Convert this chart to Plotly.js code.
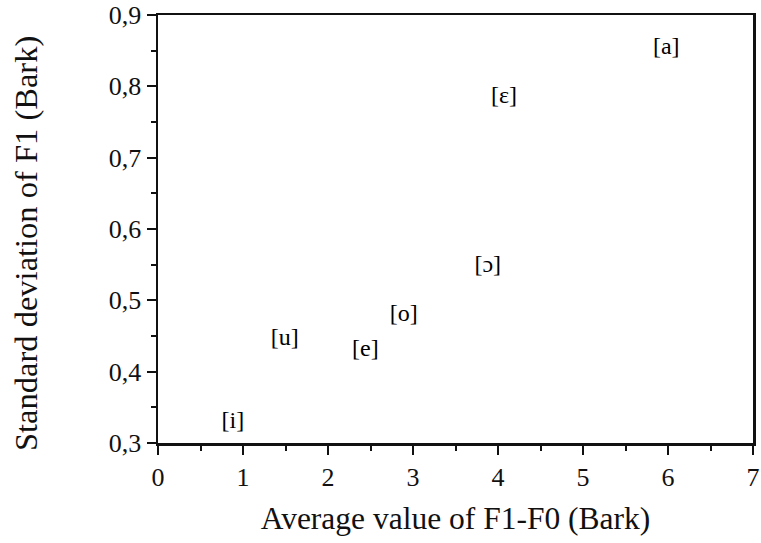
<!DOCTYPE html>
<html><head><meta charset="utf-8">
<script src="https://cdn.plot.ly/plotly-3.0.1.min.js"></script>
<style>html,body{margin:0;padding:0;background:#fff}#chart{width:761px;height:543px}</style>
</head><body><div id="chart"></div>
<script>
const vowels = ["[a]", "[ε]", "[ɔ]", "[o]", "[e]", "[u]", "[i]"];
const meanF1F0 = [5.98, 4.07, 3.88, 2.89, 2.44, 1.49, 0.88];
const sdF1 = [0.854, 0.785, 0.548, 0.479, 0.430, 0.446, 0.329];
const xTickVals = [0, 1, 2, 3, 4, 5, 6, 7];
const xTickText = ["0", "1", "2", "3", "4", "5", "6", "7"];
const yTickVals = [0.3, 0.4, 0.5, 0.6, 0.7, 0.8, 0.9];
const yTickText = ["0,3", "0,4", "0,5", "0,6", "0,7", "0,8", "0,9"];
const xTitle = "Average value of F1-F0 (Bark)";
const yTitle = "Standard deviation of F1 (Bark)";

const font = "Liberation Serif, Times New Roman, serif";
const trace = {
  x: meanF1F0, y: sdF1, text: vowels, mode: "text", type: "scatter",
  textposition: "middle center",
  textfont: {family: font, size: 24, color: "#000"},
  hoverinfo: "none", cliponaxis: false
};
const layout = {
  width: 761, height: 543,
  margin: {l: 158, r: 8, t: 15, b: 100},
  paper_bgcolor: "#fff", plot_bgcolor: "#fff",
  showlegend: false,
  xaxis: {
    range: [0, 7], tickvals: xTickVals, ticktext: xTickText,
    ticks: "outside", ticklen: 9, tickwidth: 2, tickcolor: "#111",
    minor: {dtick: 0.5, tick0: 0, ticks: "outside", ticklen: 5, tickwidth: 2, tickcolor: "#111", showgrid: false},
    showline: true, linewidth: 2.5, linecolor: "#111", mirror: true,
    showgrid: false, zeroline: false,
    tickfont: {family: font, size: 26, color: "#111"},
    title: {text: xTitle, font: {family: font, size: 31.5, color: "#111"}, standoff: 16}
  },
  yaxis: {
    range: [0.3, 0.9], tickvals: yTickVals, ticktext: yTickText,
    ticks: "outside", ticklen: 9, tickwidth: 2, tickcolor: "#111",
    minor: {dtick: 0.05, tick0: 0.3, ticks: "outside", ticklen: 5, tickwidth: 2, tickcolor: "#111", showgrid: false},
    showline: true, linewidth: 2.5, linecolor: "#111", mirror: true,
    showgrid: false, zeroline: false,
    tickfont: {family: font, size: 26, color: "#111"}
  },
  annotations: [{
    text: yTitle, textangle: -90, showarrow: false,
    xref: "paper", yref: "paper", x: 0, y: 0.465,
    xanchor: "center", yanchor: "middle", xshift: -132,
    font: {family: font, size: 32.5, color: "#111"}
  }]
};
Plotly.newPlot("chart", [trace], layout, {staticPlot: true, displayModeBar: false});
</script></body></html>
